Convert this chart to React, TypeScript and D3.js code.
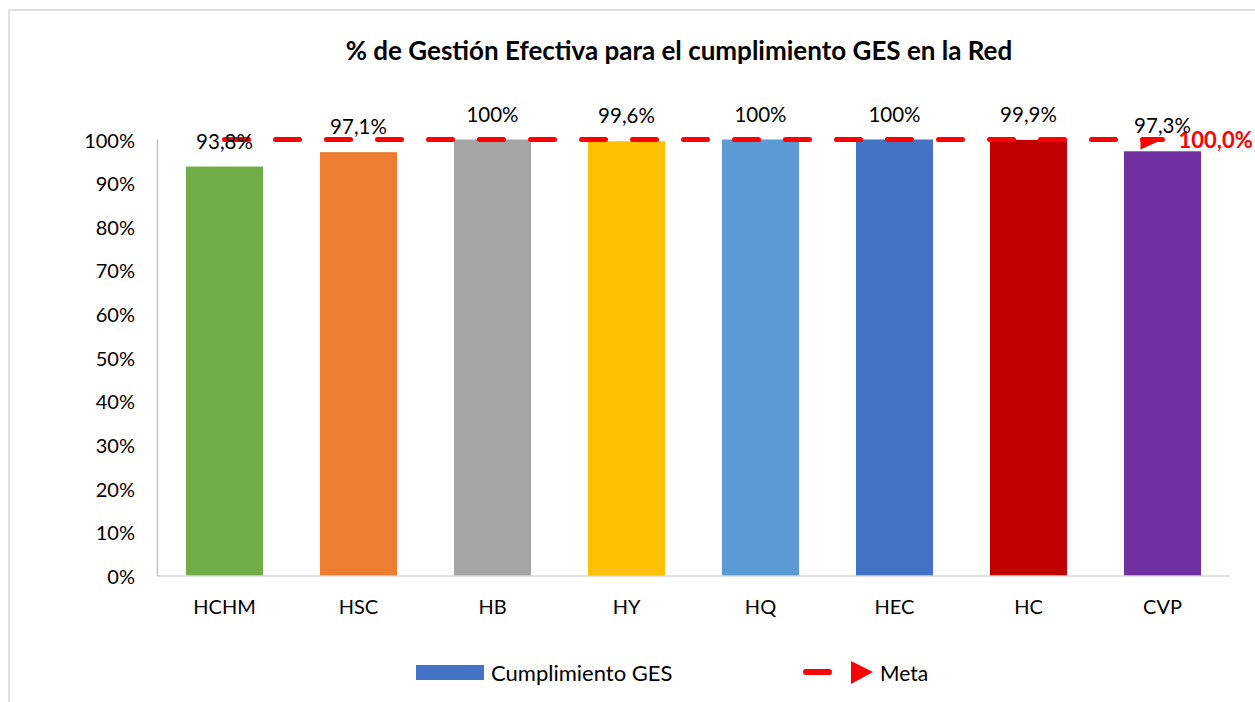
import React from 'react';
import * as d3 from 'd3';

const categories = ['HCHM', 'HSC', 'HB', 'HY', 'HQ', 'HEC', 'HC', 'CVP'];
const cumplimiento = [0.938, 0.971, 1.0, 0.996, 1.0, 1.0, 0.999, 0.973];
const valueLabels = ['93,8%', '97,1%', '100%', '99,6%', '100%', '100%', '99,9%', '97,3%'];
const meta = [1, 1, 1, 1, 1, 1, 1, 1];
const barColors = ['#70AD47', '#ED7D31', '#A5A5A5', '#FFC000', '#5B9BD5', '#4472C4', '#C00000', '#7030A0'];
const yTicks = [0, 0.1, 0.2, 0.3, 0.4, 0.5, 0.6, 0.7, 0.8, 0.9, 1.0];
const metaLabel = '100,0%';

const W = 1255;
const H = 702;
const FONT = 'Lato, "Open Sans", sans-serif';

const App = () => {
  const margin = { top: 139.5, right: 1229.5, bottom: 576, left: 157.5 };

  const x = d3.scaleBand<string>()
    .domain(categories)
    .range([margin.left, margin.right])
    .paddingInner(0.425)
    .paddingOuter(0.2125);

  const y = d3.scaleLinear().domain([0, 1]).range([margin.bottom, margin.top]);
  const fmt = d3.format('.0%');
  const cx = (c: string) => (x(c) ?? 0) + x.bandwidth() / 2;

  const metaLine = d3.line<number>()
    .x((_, i) => cx(categories[i]))
    .y(d => y(d))(meta) ?? '';

  const last = categories[categories.length - 1];
  const tipX = cx(last);
  const tipY = y(meta[meta.length - 1]);
  const arrow = `M${tipX},${tipY} L${tipX - 22},${tipY - 10} L${tipX - 22},${tipY + 10} Z`;

  return (
    <svg width={W} height={H} style={{ position: 'absolute', left: 0, top: 0, background: '#fff' }} fontFamily={FONT}>
      <defs>
        <clipPath id="arrowClip">
          <rect x={0} y={tipY - 1.5} width={W} height={H} />
        </clipPath>
      </defs>
      <rect x={9} y={10} width={W + 20} height={H + 20} fill="#fff" stroke="#d9d9d9" strokeWidth={1.6} />

      <text x={679} y={60} textAnchor="middle" fontSize={26} fontWeight="bold" fill="#000">
        % de Gestión Efectiva para el cumplimiento GES en la Red
      </text>

      {/* y axis */}
      <line x1={margin.left} x2={margin.left} y1={margin.top} y2={margin.bottom} stroke="#bfbfbf" strokeWidth={1.5} />
      {yTicks.map(t => (
        <text key={t} x={135} y={y(t)} textAnchor="end" dominantBaseline="central" fontSize={20} fill="#000">
          {fmt(t)}
        </text>
      ))}

      {/* bars */}
      {categories.map((c, i) => (
        <rect key={c} x={x(c)} y={y(cumplimiento[i])} width={x.bandwidth()} height={y(0) - y(cumplimiento[i])} fill={barColors[i]} />
      ))}

      {/* x axis */}
      <line x1={margin.left} x2={margin.right} y1={margin.bottom} y2={margin.bottom} stroke="#d9d9d9" strokeWidth={1.5} />
      {categories.map(c => (
        <text key={c} x={cx(c)} y={614} textAnchor="middle" fontSize={20} fill="#000">{c}</text>
      ))}

      {/* meta line */}
      <path d={metaLine} fill="none" stroke="#ff0000" strokeWidth={5} strokeDasharray="24 27" strokeLinecap="round" />
      <path d={arrow} fill="#ff0000" clipPath="url(#arrowClip)" />
      <text x={tipX + 16} y={tipY} dominantBaseline="central" fontSize={22} fontWeight="bold" fill="#ff0000">{metaLabel}</text>

      {/* data labels */}
      {categories.map((c, i) => (
        <text key={c} x={cx(c)} y={y(cumplimiento[i]) - 18} textAnchor="middle" fontSize={20.5} fill="#000">
          {valueLabels[i]}
        </text>
      ))}

      {/* legend */}
      <rect x={416} y={665} width={68} height={15} fill="#4472C4" />
      <text x={491} y={672} dominantBaseline="central" fontSize={22} fill="#000">Cumplimiento GES</text>
      <line x1={806} x2={829} y1={672} y2={672} stroke="#ff0000" strokeWidth={6} strokeLinecap="round" />
      <path d="M851,661 L873,672 L851,684 Z" fill="#ff0000" />
      <text x={880} y={672} dominantBaseline="central" fontSize={21} fill="#000">Meta</text>
    </svg>
  );
};

export default App;
